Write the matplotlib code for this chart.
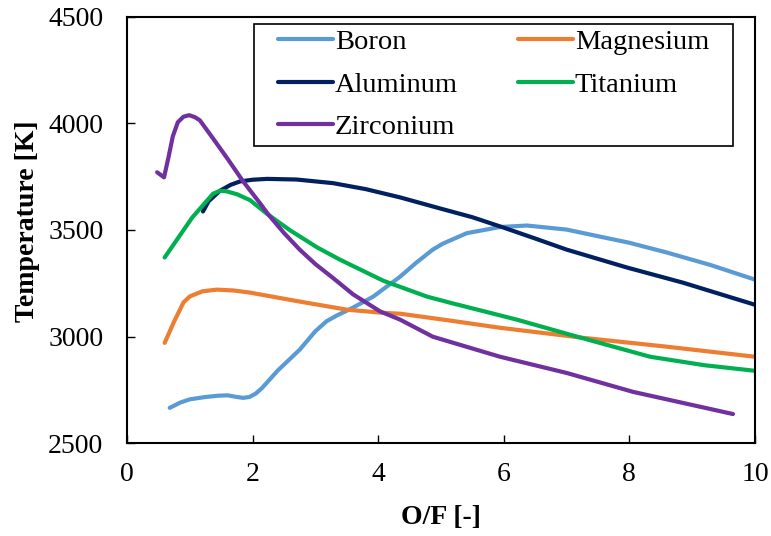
import matplotlib
matplotlib.use("Agg")
import matplotlib.pyplot as plt
from matplotlib.path import Path

# === Data ===
boron_x = [0.68, 0.85, 1.0, 1.25, 1.45, 1.6, 1.75, 1.85, 1.95, 2.05, 2.15,
           2.4, 2.75, 3.0, 3.18, 3.35, 3.55, 3.92, 4.35, 4.6, 4.87, 5.03,
           5.41, 5.94, 6.37, 7.0, 7.53, 8.0, 8.6, 9.3, 10.0]
boron_y = [2665, 2690, 2705, 2716, 2722, 2724, 2716, 2712, 2716, 2732, 2758,
           2840, 2938, 3025, 3072, 3100, 3128, 3187, 3281, 3345, 3408, 3436,
           3485, 3514, 3521, 3502, 3469, 3440, 3394, 3335, 3267]

magnesium_x = [0.6, 0.75, 0.9, 1.0, 1.2, 1.43, 1.7, 1.96, 2.75, 3.5, 4.08,
               4.35, 5.14, 5.94, 7.26, 8.6, 10.0]
magnesium_y = [2970, 3070, 3160, 3188, 3212, 3220, 3216, 3206, 3164, 3126,
               3111, 3107, 3075, 3041, 2994, 2952, 2905]

aluminum_x = [1.21, 1.3, 1.48, 1.65, 1.8, 2.0, 2.23, 2.7, 3.28, 3.8, 4.35,
              5.0, 5.5, 5.99, 6.5, 7.0, 7.96, 8.85, 10.0]
aluminum_y = [3587, 3635, 3684, 3712, 3728, 3736, 3740, 3737, 3720, 3692,
              3653, 3600, 3560, 3512, 3460, 3408, 3324, 3253, 3149]

titanium_x = [0.6, 1.04, 1.37, 1.48, 1.58, 1.75, 1.96, 2.23, 2.6, 2.75, 3.03,
              3.39, 4.08, 4.78, 5.14, 6.21, 7.17, 8.33, 9.2, 10.0]
titanium_y = [3371, 3559, 3670, 3684, 3682, 3668, 3640, 3576, 3498, 3470,
              3418, 3361, 3262, 3187, 3159, 3079, 2999, 2905, 2865, 2839]

zirconium_x = [0.48, 0.59, 0.66, 0.73, 0.81, 0.9, 0.99, 1.08, 1.16, 1.37,
               1.6, 1.85, 2.12, 2.25, 2.5, 2.75, 3.0, 3.28, 3.6, 4.03, 4.35,
               4.87, 5.94, 7.0, 8.06, 9.65]
zirconium_y = [3771, 3747, 3840, 3940, 4006, 4032, 4039, 4030, 4015, 3930,
               3835, 3728, 3625, 3573, 3486, 3408, 3340, 3275, 3198, 3118,
               3079, 2999, 2905, 2829, 2740, 2636]

x_ticks = [0, 2, 4, 6, 8, 10]
y_ticks = [2500, 3000, 3500, 4000, 4500]

COLORS = {"Boron": "#5B9BD5", "Magnesium": "#ED7D31", "Aluminum": "#002060",
          "Titanium": "#00B050", "Zirconium": "#7030A0"}

plt.rcParams["font.family"] = ["Liberation Serif", "DejaVu Serif"]


def wide_box(x0, y0, width, height, mutation_size):
    """Legend frame with extra room left and right only."""
    dx = 0.64 * mutation_size
    x1, y1 = x0 + width + dx, y0 + height
    x0 = x0 - dx
    return Path([(x0, y0), (x1, y0), (x1, y1), (x0, y1), (x0, y0)],
                [Path.MOVETO, Path.LINETO, Path.LINETO, Path.LINETO,
                 Path.CLOSEPOLY])


fig = plt.figure(figsize=(7.71, 5.36), dpi=100)
ax = fig.add_axes([0.1647, 0.1735, 0.8145, 0.7948])

series = [("Boron", boron_x, boron_y), ("Magnesium", magnesium_x, magnesium_y),
          ("Aluminum", aluminum_x, aluminum_y),
          ("Titanium", titanium_x, titanium_y),
          ("Zirconium", zirconium_x, zirconium_y)]
lines = {}
for name, xs, ys in series:
    lines[name], = ax.plot(xs, ys, color=COLORS[name], lw=3,
                           solid_capstyle="round", solid_joinstyle="round",
                           label=name)

ax.set_xlim(0, 10)
ax.set_ylim(2500, 4500)
ax.set_xticks(x_ticks)
ax.set_yticks(y_ticks)
ax.tick_params(direction="in", length=6, width=1, labelsize=20, colors="black")
ax.tick_params(axis="y", pad=17)
ax.tick_params(axis="x", pad=14)
for s in ax.spines.values():
    s.set_linewidth(1.5)

ax.set_xlabel("O/F [-]", fontsize=20, fontweight="bold")
ax.set_ylabel("Temperature [K]", fontsize=20, fontweight="bold")
ax.xaxis.set_label_coords(0.5, -0.145)
ax.yaxis.set_label_coords(-0.138, 0.52)

# legend filled column-wise, so order handles to read row-wise
order = ["Boron", "Aluminum", "Zirconium", "Magnesium", "Titanium"]
leg = ax.legend([lines[n] for n in order], order, ncol=2, loc="upper right",
                bbox_to_anchor=(0.9358, 0.984), borderaxespad=0,
                fontsize=20.5, fancybox=False, framealpha=1,
                edgecolor="black", handlelength=1.93, handletextpad=0.07,
                columnspacing=2.1, labelspacing=0.58, borderpad=0.2)
leg.get_frame().set_linewidth(1.2)
leg.get_frame().set_boxstyle(wide_box)

fig.savefig("out.png", dpi=100)
